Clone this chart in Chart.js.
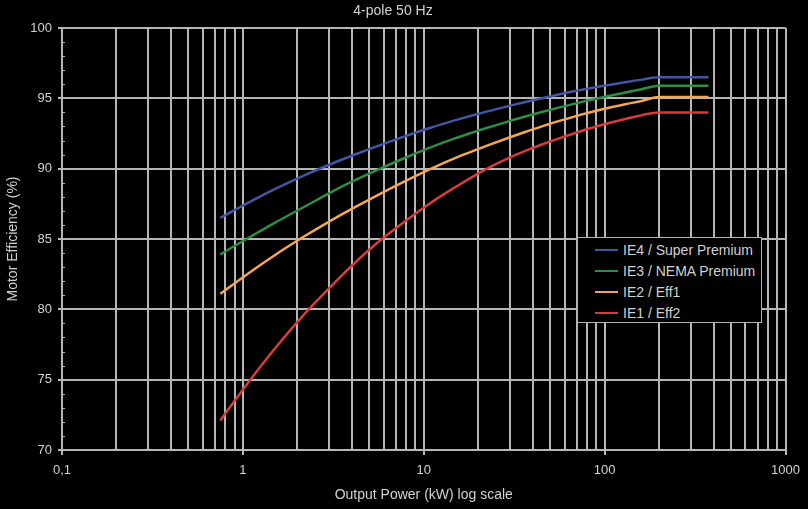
<!DOCTYPE html>
<html>
<head>
<meta charset="utf-8">
<script src="https://cdn.jsdelivr.net/npm/chart.js@4/dist/chart.umd.min.js"></script>
<style>
  html, body { margin: 0; padding: 0; background: #000; }
  #wrap { position: relative; width: 808px; height: 509px; }
  #legend {
    position: absolute; left: 577px; top: 237px; width: 183px; height: 84px;
    border: 1px solid #b0b0b0; background: #000;
    font: 14px "Liberation Sans", Arial, sans-serif; color: #d0d0d0;
  }
  #legend .row { position: absolute; left: 0; height: 16px; line-height: 16px; white-space: nowrap; }
  #legend .sw { position: absolute; left: 17px; top: 7px; width: 23px; height: 2px; }
  #legend .tx { position: absolute; left: 45px; top: 0; }
</style>
</head>
<body>
<div id="wrap">
  <canvas id="lineChart"></canvas>
  <div id="legend"></div>
</div>
<script>
// motor sizes (kW) and efficiency per class (%)
const powerKW = [0.75, 1.1, 1.5, 2.2, 3, 4, 5.5, 7.5, 11, 15, 18.5, 22, 30, 37, 45, 55, 75, 90, 110, 132, 160, 200, 375];
const ie4 = [86.5, 87.66, 88.54, 89.54, 90.28, 90.92, 91.59, 92.21, 92.93, 93.45, 93.78, 94.04, 94.48, 94.76, 95.01, 95.26, 95.61, 95.8, 95.99, 96.16, 96.33, 96.5, 96.5];
const ie3 = [83.9, 85.16, 86.15, 87.31, 88.25, 89.07, 89.89, 90.65, 91.53, 92.17, 92.56, 92.87, 93.4, 93.73, 94.03, 94.32, 94.75, 94.97, 95.22, 95.43, 95.65, 95.9, 95.9];
const ie2 = [81.1, 82.66, 83.85, 85.21, 86.24, 87.14, 88.09, 88.98, 90.01, 90.77, 91.23, 91.6, 92.23, 92.64, 93.01, 93.36, 93.86, 94.12, 94.38, 94.6, 94.81, 95.1, 95.1];
const ie1 = [72.1, 75.0, 77.2, 79.7, 81.5, 83.1, 84.7, 86.05, 87.6, 88.7, 89.4, 89.95, 90.8, 91.3, 91.72, 92.12, 92.7, 93.0, 93.3, 93.55, 93.8, 94.0, 94.0];

const seriesLabels = ['IE4 / Super Premium', 'IE3 / NEMA Premium', 'IE2 / Eff1', 'IE1 / Eff2'];
const seriesColors = ['#4456a2', '#2f8e45', '#f3a655', '#d33d3d'];

const xDecades = [0.1, 1, 10, 100, 1000];
const xTickLabels = ['0,1', '1', '10', '100', '1000'];
const xMultipliers = [1, 2, 3, 4, 5, 6, 7, 8, 9];
const yMinorTicks = [71,72,73,74,76,77,78,79,81,82,83,84,86,87,88,89,91,92,93,94,96,97,98,99];

const chartTitle = '4-pole 50 Hz';
const xTitle = 'Output Power (kW) log scale';
const yTitle = 'Motor Efficiency (%)';

const gridColor = '#b6b6b6';
const textColor = '#d2d2d2';
const fontFamily = '"Liberation Sans", Arial, sans-serif';

// all log grid positions 0.1 .. 1000
const xGrid = [];
xDecades.slice(0, -1).forEach(d => xMultipliers.forEach(m => xGrid.push(d * m)));
xGrid.push(1000);

function isDecade(v) {
    return xDecades.some(d => Math.abs(d - v) < d * 1e-6);
}

const allSeries = [ie4, ie3, ie2, ie1];

// small inward ticks on the left axis
const minorTicks = {
    id: 'minorTicks',
    afterDraw(chart) {
        const y = chart.scales.y;
        const ctx = chart.ctx;
        ctx.save();
        ctx.strokeStyle = gridColor;
        ctx.lineWidth = 1;
        yMinorTicks.forEach(v => {
            const py = Math.round(y.getPixelForValue(v)) + 0.5;
            ctx.beginPath();
            ctx.moveTo(y.right, py);
            ctx.lineTo(y.right + 3, py);
            ctx.stroke();
        });
        ctx.restore();
    }
};

new Chart(document.querySelector('#lineChart'), {
    type: 'line',
    data: {
        datasets: allSeries.map((vals, i) => ({
            label: seriesLabels[i],
            data: vals.map((v, j) => ({ x: powerKW[j], y: v })),
            borderColor: seriesColors[i],
            borderWidth: 2.5,
            pointRadius: 0,
            fill: false,
            cubicInterpolationMode: 'monotone'
        }))
    },
    options: {
        responsive: true,
        maintainAspectRatio: false,
        animation: false,
        layout: { padding: { left: 0, right: 22, top: 0, bottom: 0 } },
        plugins: {
            legend: { display: false },
            tooltip: { enabled: false },
            title: {
                display: true,
                text: chartTitle,
                color: textColor,
                font: { family: fontFamily, size: 14, weight: 'normal' },
                padding: { top: 3, bottom: 8.2 }
            }
        },
        scales: {
            x: {
                type: 'logarithmic',
                min: 0.1,
                max: 1000,
                afterBuildTicks: s => { s.ticks = xGrid.map(v => ({ value: v, major: isDecade(v) })); },
                afterFit: s => { s.height = 59; },
                grid: {
                    color: gridColor,
                    lineWidth: 2,
                    tickLength: 5,
                    tickColor: c => (c.tick && isDecade(c.tick.value)) ? gridColor : 'rgba(0,0,0,0)'
                },
                border: { color: gridColor, width: 2 },
                ticks: {
                    autoSkip: false,
                    maxRotation: 0,
                    padding: 8,
                    color: textColor,
                    font: { family: fontFamily, size: 13 },
                    callback: v => {
                        const k = xDecades.findIndex(d => Math.abs(d - v) < d * 1e-6);
                        return k >= 0 ? xTickLabels[k] : '';
                    }
                },
                title: {
                    display: true,
                    text: xTitle,
                    color: textColor,
                    font: { family: fontFamily, size: 14 },
                    padding: { top: 0, bottom: 5 }
                }
            },
            y: {
                min: 70,
                max: 100,
                afterFit: s => { s.width = 62; },
                grid: { color: gridColor, lineWidth: 2, tickLength: 4 },
                border: { color: gridColor, width: 2 },
                ticks: {
                    stepSize: 5,
                    padding: 6,
                    color: textColor,
                    font: { family: fontFamily, size: 13 }
                },
                title: {
                    display: true,
                    text: yTitle,
                    color: textColor,
                    font: { family: fontFamily, size: 14 },
                    padding: { top: 5, bottom: 0 }
                }
            }
        }
    },
    plugins: [minorTicks]
});

// legend box drawn as html, same order as the reference
const legend = document.getElementById('legend');
const rowTops = [4, 25, 46, 67];
seriesLabels.forEach((lab, i) => {
    const row = document.createElement('div');
    row.className = 'row';
    row.style.top = rowTops[i] + 'px';
    row.innerHTML = '<span class="sw" style="background:' + seriesColors[i] + '"></span><span class="tx">' + lab + '</span>';
    legend.appendChild(row);
});
</script>
</body>
</html>
